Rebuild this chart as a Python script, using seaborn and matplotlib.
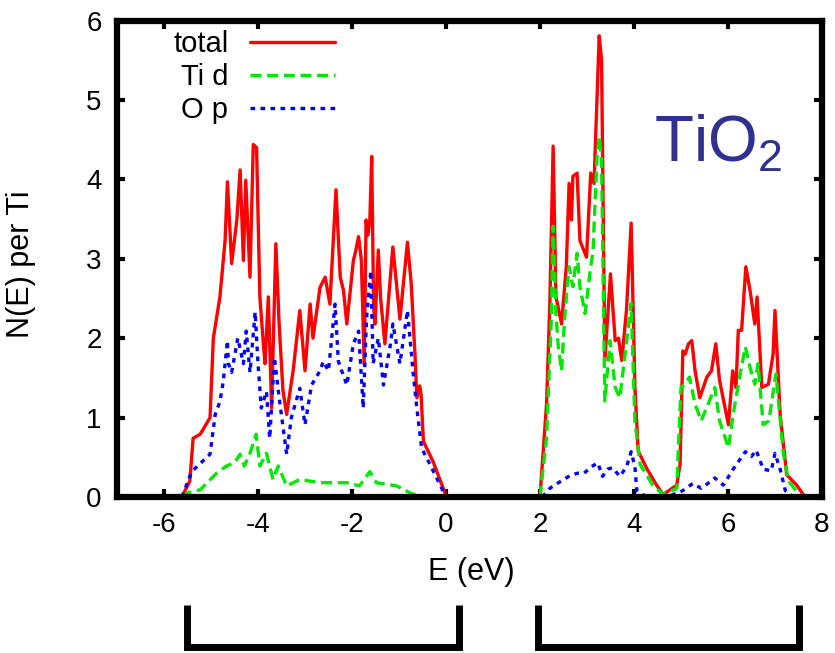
import numpy as np
import pandas as pd
import matplotlib
matplotlib.use("Agg")
import matplotlib.pyplot as plt
import matplotlib.transforms as mtransforms
import seaborn as sns

# Densitas keadaan TiO2, pita valensi dan pita konduksi
tot_vb_E = [-5.62, -5.45, -5.38, -5.23, -5.02, -4.95, -4.81, -4.70, -4.65, -4.56,
            -4.45, -4.38, -4.31, -4.26, -4.17, -4.10, -4.03, -3.96, -3.88, -3.85,
            -3.78, -3.71, -3.62, -3.55, -3.47, -3.39, -3.25, -3.11, -3.00, -2.89,
            -2.83, -2.68, -2.57, -2.47, -2.34, -2.25, -2.18, -2.11, -1.97, -1.92,
            -1.86, -1.80, -1.74, -1.70, -1.66, -1.62, -1.58, -1.54, -1.51, -1.44,
            -1.39, -1.30, -1.13, -0.98, -0.82, -0.74, -0.66, -0.62, -0.56, -0.53,
            -0.48, -0.27, 0.01]
tot_vb_N = [0.00, 0.20, 0.74, 0.79, 1.00, 2.00, 2.52, 3.23, 3.97, 2.94,
            3.49, 4.12, 2.98, 3.99, 2.77, 4.44, 4.40, 2.52, 1.89, 1.68,
            2.52, 1.12, 3.19, 2.18, 1.35, 1.04, 1.60, 2.35, 1.59, 2.43,
            2.00, 2.64, 2.77, 2.43, 3.87, 2.77, 2.60, 2.18, 2.98, 3.10,
            3.28, 2.98, 1.67, 3.49, 3.30, 3.49, 4.29, 2.40, 2.18, 3.11,
            2.50, 1.93, 3.15, 2.24, 3.21, 2.69, 1.80, 1.25, 1.40, 1.29,
            0.70, 0.44, 0.00]

td_vb_E = [-5.62, -5.51, -5.23, -4.88, -4.67, -4.50, -4.38, -4.29, -4.17, -4.04,
           -3.96, -3.82, -3.68, -3.57, -3.39, -3.11, -2.68, -2.11, -1.84, -1.62,
           -1.48, -1.05, -0.76, -0.50]
td_vb_N = [0.00, 0.05, 0.09, 0.30, 0.39, 0.43, 0.54, 0.39, 0.55, 0.79,
           0.39, 0.55, 0.22, 0.39, 0.14, 0.22, 0.18, 0.18, 0.14, 0.32,
           0.18, 0.14, 0.05, 0.00]

op_vb_E = [-5.62, -5.41, -5.02, -4.91, -4.81, -4.74, -4.65, -4.63, -4.56, -4.43,
           -4.31, -4.25, -4.17, -4.06, -4.00, -3.93, -3.82, -3.75, -3.65, -3.55,
           -3.39, -3.29, -3.11, -3.00, -2.86, -2.68, -2.61, -2.50, -2.36, -2.29,
           -2.11, -1.97, -1.86, -1.76, -1.69, -1.60, -1.55, -1.44, -1.33, -1.18,
           -1.13, -0.98, -0.82, -0.70, -0.62, -0.52, -0.34, 0.00]
op_vb_N = [0.00, 0.32, 0.54, 1.04, 1.20, 1.45, 1.97, 1.68, 1.57, 2.00,
           1.68, 2.09, 1.57, 2.33, 1.68, 1.12, 1.33, 0.74, 1.76, 1.25,
           0.54, 1.00, 1.37, 0.91, 1.41, 1.59, 1.71, 1.59, 2.43, 1.71,
           1.41, 1.93, 2.09, 1.12, 2.26, 2.85, 1.68, 2.00, 1.41, 1.93,
           2.18, 1.68, 2.35, 1.57, 1.12, 0.62, 0.41, 0.00]

tot_cb_E = [2.00, 2.14, 2.21, 2.28, 2.34, 2.46, 2.56, 2.62, 2.67, 2.70,
            2.79, 2.85, 2.99, 3.08, 3.15, 3.21, 3.26, 3.31, 3.38, 3.50,
            3.60, 3.67, 3.74, 3.84, 3.94, 4.02, 4.09, 4.27, 4.48, 4.62,
            4.91, 4.98, 5.04, 5.09, 5.16, 5.23, 5.30, 5.40, 5.55, 5.65,
            5.74, 5.82, 6.01, 6.10, 6.17, 6.22, 6.29, 6.38, 6.47, 6.57,
            6.62, 6.72, 6.86, 6.96, 7.00, 7.11, 7.25, 7.46, 7.64]
tot_cb_N = [0.00, 1.17, 2.44, 4.42, 2.52, 2.18, 2.90, 3.95, 3.49, 4.04,
            4.08, 3.23, 3.02, 4.08, 3.95, 4.96, 5.81, 5.51, 1.72, 2.81,
            1.97, 2.00, 1.72, 2.35, 3.45, 1.38, 0.58, 0.36, 0.15, 0.03,
            0.15, 0.41, 1.84, 1.80, 1.93, 1.97, 1.59, 1.25, 1.51, 1.59,
            1.93, 1.47, 0.91, 1.59, 1.38, 2.10, 2.10, 2.90, 2.60, 2.18,
            2.52, 1.38, 1.42, 1.80, 2.35, 1.04, 0.28, 0.15, 0.00]

td_cb_E = [2.00, 2.14, 2.24, 2.28, 2.34, 2.39, 2.46, 2.53, 2.62, 2.70,
           2.79, 2.85, 2.96, 3.06, 3.13, 3.21, 3.26, 3.31, 3.38, 3.49,
           3.60, 3.70, 3.81, 3.94, 4.02, 4.13, 4.40, 4.62, 4.91, 5.00,
           5.09, 5.18, 5.30, 5.43, 5.55, 5.72, 5.82, 6.01, 6.11, 6.26,
           6.37, 6.47, 6.57, 6.64, 6.75, 6.87, 7.02, 7.18, 7.29, 7.46,
           7.60]
td_cb_N = [0.00, 0.75, 2.23, 3.41, 2.31, 1.89, 1.59, 2.31, 2.90, 2.65,
           3.07, 2.65, 2.31, 2.81, 3.11, 4.25, 4.54, 4.25, 1.21, 1.97,
           1.38, 1.25, 1.80, 2.44, 0.96, 0.41, 0.15, 0.03, 0.11, 1.38,
           1.42, 1.51, 1.17, 0.96, 1.13, 1.38, 0.96, 0.62, 1.04, 1.55,
           1.89, 1.63, 1.42, 1.68, 0.91, 0.96, 1.55, 0.54, 0.20, 0.07,
           0.00]

op_cb_E = [2.05, 2.21, 2.42, 2.64, 2.80, 2.94, 3.09, 3.23, 3.33, 3.44,
           3.54, 3.70, 3.84, 3.94, 4.02, 4.06, 4.27, 4.55, 4.70, 5.04,
           5.25, 5.43, 5.57, 5.72, 5.90, 6.11, 6.37, 6.50, 6.60, 6.75,
           6.92, 7.00, 7.11, 7.22, 7.40]
op_cb_N = [0.00, 0.11, 0.19, 0.27, 0.30, 0.30, 0.38, 0.43, 0.26, 0.35,
           0.37, 0.26, 0.38, 0.57, 0.38, 0.08, 0.00, 0.00, 0.00, 0.08,
           0.17, 0.11, 0.17, 0.24, 0.15, 0.35, 0.57, 0.51, 0.59, 0.35,
           0.33, 0.55, 0.35, 0.08, 0.00]

# Rentang kurung di bawah sumbu (pita valensi, pita konduksi), dalam eV
VB_RANGE = [-5.51, 0.28]
CB_RANGE = [1.96, 7.51]

SERIES = ["total", "Ti d", "O p"]
COLORS = {"total": "#ff0000", "Ti d": "#00e600", "O p": "#0000ff"}
DASHES = {"total": "", "Ti d": (3.3, 1.7), "O p": (1.4, 1.6)}
TITLE_COLOR = "#2e3192"


def build_frame():
    parts = []
    for name, band, E, N in [
        ("total", "vb", tot_vb_E, tot_vb_N),
        ("total", "cb", tot_cb_E, tot_cb_N),
        ("Ti d", "vb", td_vb_E, td_vb_N),
        ("Ti d", "cb", td_cb_E, td_cb_N),
        ("O p", "vb", op_vb_E, op_vb_N),
        ("O p", "cb", op_cb_E, op_cb_N),
    ]:
        parts.append(pd.DataFrame({"E": E, "N": N, "series": name, "band": band}))
    return pd.concat(parts, ignore_index=True)


def plot_dos():
    df = build_frame()

    sns.set_theme(style="white")
    plt.rcParams["font.family"] = ["Liberation Sans", "DejaVu Sans"]
    plt.rcParams["axes.unicode_minus"] = False
    plt.rcParams["text.color"] = "black"
    plt.rcParams["axes.labelcolor"] = "black"

    fig = plt.figure(figsize=(8.35, 6.53), dpi=100)
    ax = fig.add_axes([0.1401, 0.2389, 0.8443, 0.7294])

    sns.lineplot(data=df, x="E", y="N", hue="series", style="series",
                 units="band", estimator=None, sort=False,
                 hue_order=SERIES, style_order=SERIES,
                 palette=COLORS, dashes=DASHES, linewidth=2.4, ax=ax)

    ax.set_xlim(-7, 8)
    ax.set_ylim(0, 6)
    ax.set_xticks(np.arange(-6, 9, 2))
    ax.set_yticks(np.arange(0, 7, 1))
    ax.tick_params(direction="in", length=6, width=3, color="black",
                   top=True, right=True, bottom=True, left=True,
                   labelsize=20, pad=11, labelcolor="black")
    for sp in ax.spines.values():
        sp.set_linewidth(4.5)
        sp.set_color("black")

    ax.set_xlabel("E (eV)", fontsize=22, color="black")
    ax.set_ylabel("N(E) per Ti", fontsize=22, color="black")
    ax.xaxis.set_label_coords(0.502, -0.126)
    ax.yaxis.set_label_coords(-0.115, 0.489)

    handles, labels = ax.get_legend_handles_labels()
    leg = ax.legend(handles, labels, loc="upper right", bbox_to_anchor=(0.309, 0.98),
                    frameon=False, markerfirst=False, handlelength=2.9,
                    handletextpad=0.75, labelspacing=0.17, fontsize=21,
                    borderpad=0, borderaxespad=0)
    for h in leg.legend_handles:
        h.set_linewidth(2.4)
    for t in leg.get_texts():
        t.set_color("black")

    ax.text(0.762, 0.704, r"$\mathregular{TiO_2}$", transform=ax.transAxes,
            fontsize=46, color=TITLE_COLOR, ha="left", va="baseline")

    # kurung penanda pita di bawah sumbu E
    trans = mtransforms.blended_transform_factory(ax.transData, ax.transAxes)
    for lo, hi in [VB_RANGE, CB_RANGE]:
        ax.plot([lo, lo, hi, hi], [-0.227, -0.315, -0.315, -0.227], transform=trans,
                color="black", lw=5, clip_on=False,
                solid_joinstyle="miter", solid_capstyle="butt")

    fig.savefig("out.png", dpi=100)
    plt.close(fig)


if __name__ == "__main__":
    plot_dos()
